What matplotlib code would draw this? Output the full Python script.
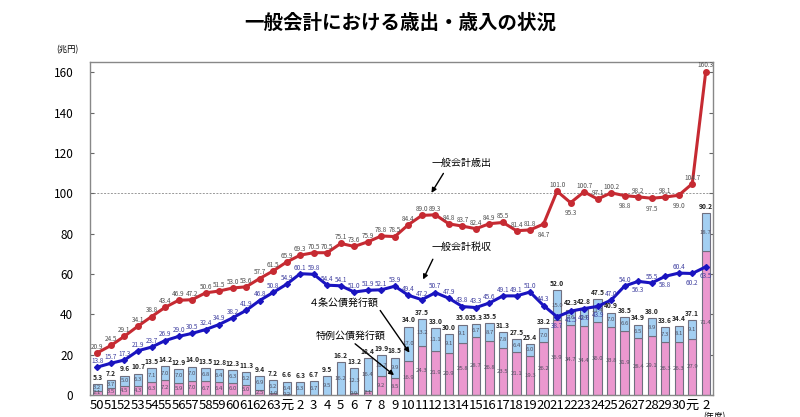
import numpy as np
from matplotlib import pyplot as plt

plt.rcParams['font.family'] = ['Noto Sans CJK JP', 'DejaVu Sans']

years = ['50', '51', '52', '53', '54', '55', '56', '57', '58', '59', '60', '61', '62', '63', '元',
         '2', '3', '4', '5', '6', '7', '8', '9', '10', '11', '12', '13', '14', '15', '16', '17', '18',
         '19', '20', '21', '22', '23', '24', '25', '26', '27', '28', '29', '30', '元', '2']

spending = [20.9, 24.5, 29.1, 34.1, 38.8, 43.4, 46.9, 47.2, 50.6, 51.5, 53.0, 53.6, 57.7, 61.5, 65.9,
            69.3, 70.5, 70.5, 75.1, 73.6, 75.9, 78.8, 78.5, 84.4, 89.0, 89.3, 84.8, 83.7, 82.4, 84.9,
            85.5, 81.4, 81.8, 84.7, 101.0, 95.3, 100.7, 97.1, 100.2, 98.8, 98.2, 97.5, 98.1, 99.0,
            104.7, 160.3]

tax = [13.8, 15.7, 17.3, 21.9, 23.7, 26.9, 29.0, 30.5, 32.4, 34.9, 38.2, 41.9, 46.8, 50.8, 54.9,
       60.1, 59.8, 54.4, 54.1, 51.0, 51.9, 52.1, 53.9, 49.4, 47.2, 50.7, 47.9, 43.8, 43.3, 45.6,
       49.1, 49.1, 51.0, 44.3, 38.7, 41.5, 42.8, 43.9, 47.0, 54.0, 56.3, 55.5, 58.8, 60.4, 60.2, 63.5]

# deficit-financing bonds (特例公債)
deficit_bonds = [2.1, 3.5, 4.5, 4.3, 6.3, 7.2, 5.9, 7.0, 6.7, 6.4, 6.0, 5.0, 2.5, 1.0, 0.2,
                 0.0, 0.0, 0.0, 0.0, 0.9, 2.1, 9.2, 8.5, 16.9, 24.3, 21.9, 20.9, 25.8, 28.7, 26.8,
                 23.5, 21.1, 19.3, 26.2, 36.9, 34.7, 34.4, 36.0, 33.8, 31.9, 28.4, 29.1, 26.3, 26.3,
                 27.9, 71.4]

# construction bonds (4条公債)
construction_bonds = [3.2, 3.7, 5.0, 6.3, 7.1, 7.0, 7.0, 7.0, 6.8, 6.4, 6.3, 6.2, 6.9, 6.2, 6.4,
                      6.3, 6.7, 9.5, 16.2, 12.3, 16.4, 10.7, 9.9, 17.0, 13.2, 11.1, 9.1, 9.1, 6.7, 8.7,
                      7.8, 6.4, 6.0, 7.0, 15.0, 7.6, 8.4, 11.4, 7.0, 6.6, 6.5, 8.9, 7.3, 8.1, 9.1, 18.7]

bond_total = [5.3, 7.2, 9.6, 10.7, 13.5, 14.2, 12.9, 14.0, 13.5, 12.8, 12.3, 11.3, 9.4, 7.2, 6.6,
              6.3, 6.7, 9.5, 16.2, 13.2, 18.4, 19.9, 18.5, 34.0, 37.5, 33.0, 30.0, 35.0, 35.3, 35.5,
              31.3, 27.5, 25.4, 33.2, 52.0, 42.3, 42.8, 47.5, 40.9, 38.5, 34.9, 38.0, 33.6, 34.4,
              37.1, 90.2]

spending_below = [33, 35, 39, 41, 43]
tax_below = [34, 35, 36, 37, 40, 42, 44, 45]


def main():
    fig = plt.figure(figsize=(8, 4.17), dpi=100)
    ax = fig.add_axes([0.1125, 0.053, 0.779, 0.798])
    x = np.arange(len(years))

    ax.bar(x, deficit_bonds, width=0.62, color='#eb98cf', edgecolor='#707080', linewidth=0.8, zorder=2)
    ax.bar(x, construction_bonds, width=0.62, bottom=deficit_bonds, color='#a3cff2',
           edgecolor='#707080', linewidth=0.8, zorder=2)

    ax.plot(x, spending, color='#c62a32', linewidth=2.2, marker='o', markersize=4, zorder=4)
    ax.plot(x, tax, color='#1a14c0', linewidth=2.2, marker='D', markersize=3, zorder=4)

    ax.axhline(100, color='#999999', linestyle=(0, (2, 1.5)), linewidth=0.7, zorder=1)

    # value labels
    for i in x:
        dy = -9 if i in spending_below else 3
        ax.annotate('%.1f' % spending[i], (i, spending[i]), xytext=(0, dy), textcoords='offset points',
                    ha='center', fontsize=4.6, color='#505050', zorder=5)
        dy = -8 if i in tax_below else 3
        ax.annotate('%.1f' % tax[i], (i, tax[i]), xytext=(0, dy), textcoords='offset points',
                    ha='center', fontsize=4.6, color='#4040a0', zorder=5)
        ax.annotate('%.1f' % bond_total[i], (i, bond_total[i]), xytext=(0, 3), textcoords='offset points',
                    ha='center', fontsize=4.8, fontweight='bold', fontstyle='italic', color='#222222',
                    zorder=5)
        ax.text(i, deficit_bonds[i] + construction_bonds[i] / 2, '%.1f' % construction_bonds[i],
                ha='center', va='center', fontsize=4.3, color='#505060', zorder=3)
        if deficit_bonds[i] > 0:
            ax.text(i, deficit_bonds[i] / 2, '%.1f' % deficit_bonds[i],
                    ha='center', va='center', fontsize=4.3, color='#505060', zorder=3)

    arrow = dict(arrowstyle='-|>', color='black', linewidth=1.0, mutation_scale=7)
    ax.annotate('', xy=(24.6, 99), xytext=(25.7, 111), arrowprops=arrow)
    ax.text(26.9, 115, '一般会計歳出', ha='center', va='center', fontsize=7.2)
    ax.annotate('', xy=(24.0, 56), xytext=(24.9, 68.5), arrowprops=arrow)
    ax.text(26.9, 73.3, '一般会計税収', ha='center', va='center', fontsize=7.2)
    ax.annotate('', xy=(23.2, 19.8), xytext=(20.8, 43), arrowprops=arrow)
    ax.text(18.2, 45.5, '４条公債発行額', ha='center', va='center', fontsize=7.2)
    ax.annotate('', xy=(22.1, 8.9), xytext=(18.9, 26.2), arrowprops=arrow)
    ax.text(18.7, 29.2, '特例公債発行額', ha='center', va='center', fontsize=7.2)

    ax.set_xlim(-0.55, len(years) - 0.45)
    ax.set_ylim(0, 165)
    ax.set_yticks(np.arange(0, 161, 20))
    ax.set_xticks(x)
    ax.set_xticklabels(years, fontsize=9.5)
    ax.tick_params(axis='x', length=0, pad=3)
    ax.tick_params(axis='y', direction='in', length=3, labelsize=8.5, pad=12, right=True, color='#666666')
    for s in ax.spines.values():
        s.set_color('#888888')
        s.set_linewidth(1.0)

    fig.text(0.5, 0.945, '一般会計における歳出・歳入の状況', ha='center', va='center',
             fontsize=14, fontweight='bold')
    fig.text(0.084, 0.88, '(兆円)', ha='center', va='center', fontsize=6)
    fig.text(0.879, 0.012, '(年度)', ha='left', va='top', fontsize=6)

    fig.savefig('out.png', dpi=100)


if __name__ == "__main__":
    main()
